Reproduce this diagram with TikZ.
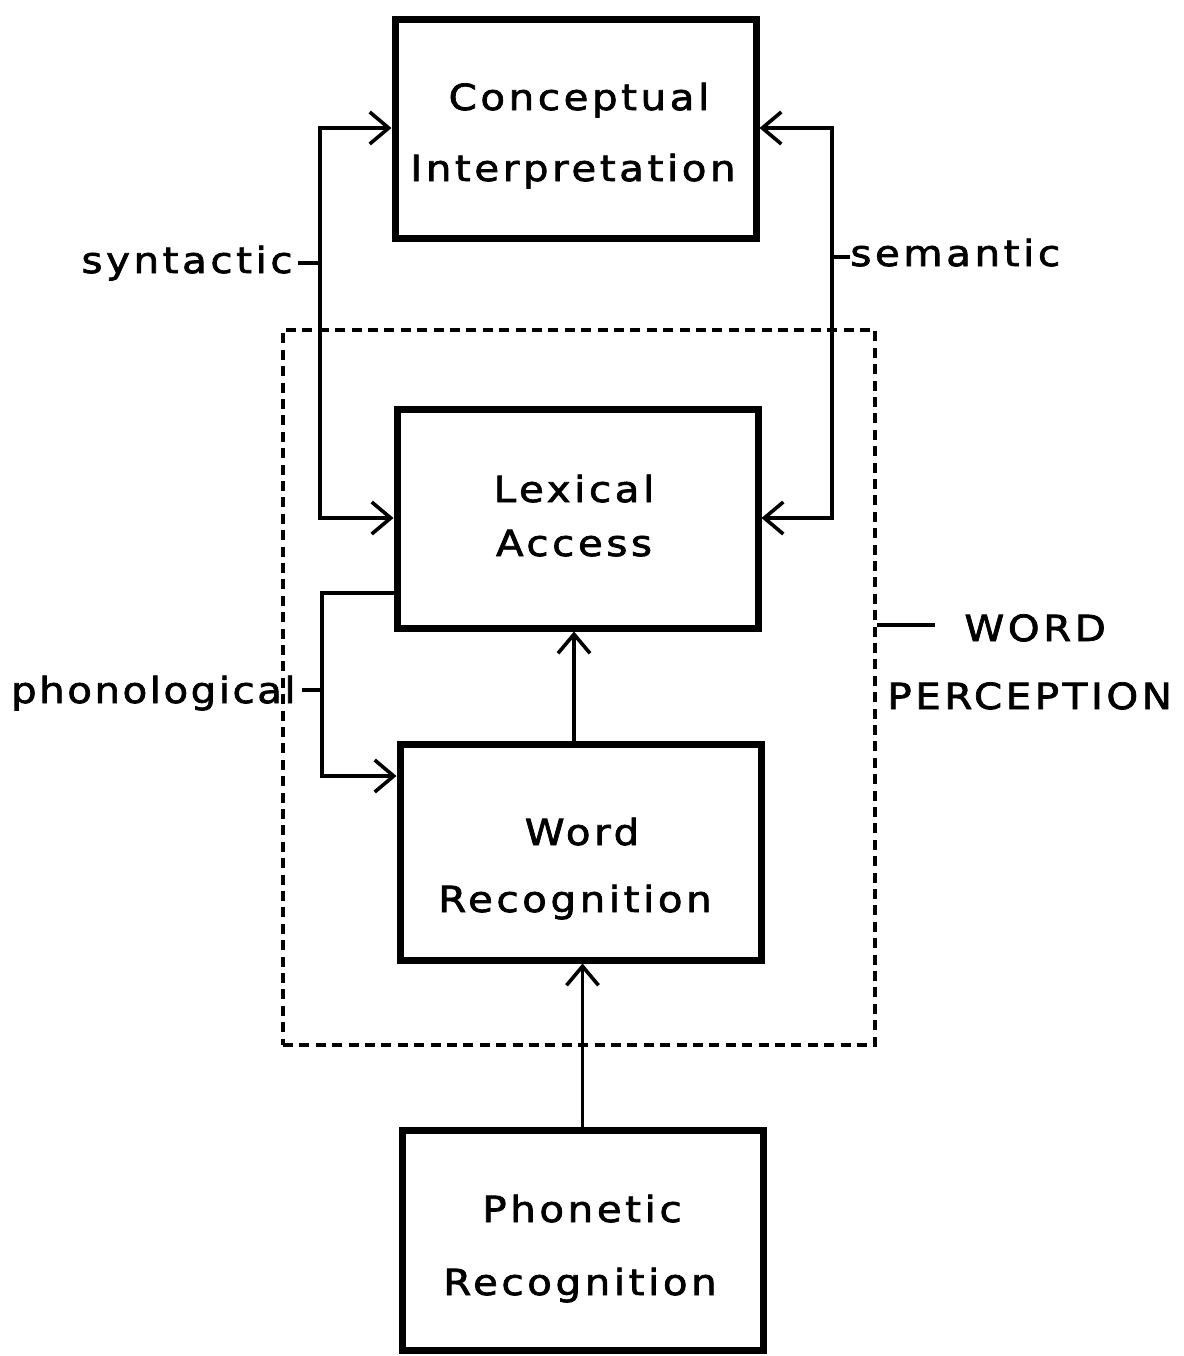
\documentclass[tikz,border=0pt]{standalone}
\usepackage{fontspec}
\setmainfont{DejaVu Sans}[LetterSpace=10, FakeStretch=1.12, FakeBold=2]
\usetikzlibrary{arrows.meta}
\tikzset{
  box/.style={draw, line width=3.5pt, rectangle, inner sep=0pt, minimum width=180.5pt, minimum height=109.5pt},
  conn/.style={line width=1.8pt},
  tipend/.style={-{Straight Barb[length=9.5pt,width=16pt]}},
  tipboth/.style={{Straight Barb[length=9.5pt,width=16pt]}-{Straight Barb[length=9.5pt,width=16pt]}},
  dashbox/.style={draw, line width=2pt, dash pattern=on 5pt off 3.2pt, rectangle, inner sep=0pt},
  lbl/.style={font=\fontsize{18}{20}\selectfont, inner sep=0pt}
}
\begin{document}
\begin{tikzpicture}[x=0.5pt,y=-0.5pt]
\useasboundingbox (0,0) rectangle (1184,1356);
% dashed WORD PERCEPTION region
\node[dashbox, minimum width=296pt, minimum height=357.5pt] (wp) at (579,687.5) {};
% boxes
\node[box] (ci) at (575.5,128.5) {};
\node[box] (la) at (577.5,518.5) {};
\node[box, minimum height=108pt] (wr) at (580.5,852) {};
\node[box, minimum height=110pt] (pr) at (582.5,1240) {};
% box texts
\node[lbl, anchor=base] (ci1) at (579,110) {Conceptual};
\node[lbl, anchor=base] (ci2) at (573,181) {Interpretation};
\node[lbl, anchor=base] (la1) at (574,502) {Lexical};
\node[lbl, anchor=base] (la2) at (574,556) {Access};
\node[lbl, anchor=base] (wr1) at (582,845) {Word};
\node[lbl, anchor=base] (wr2) at (575,912) {Recognition};
\node[lbl, anchor=base] (pr1) at (582,1222) {Phonetic};
\node[lbl, anchor=base] (pr2) at (580,1295) {Recognition};
% side labels
\node[lbl, anchor=base east] (syn) at (293,273) {syntactic};
\node[lbl, anchor=base west] (sem) at (850,266) {semantic};
\node[lbl, anchor=base east] (pho) at (296,703) {\addfontfeature{LetterSpace=7}phonological};
\node[lbl, anchor=base west] (wd) at (964,641) {WORD};
\node[lbl, anchor=base west] (pc) at (887,709) {PERCEPTION};
% routing coordinates
\coordinate (sT) at (320,128);
\coordinate (sB) at (320,518);
\coordinate (sM) at (320,263);
\coordinate (mT) at (832,128);
\coordinate (mB) at (832,518);
\coordinate (mM) at (832,257);
\coordinate (pT) at (322,593);
\coordinate (pB) at (322,776);
\coordinate (pM) at (322,690);
\coordinate (wT) at (935,625);
% connectors
\draw[conn, tipboth] (sT -| ci.west) -- (sT) -- (sB) -- (sB -| la.west);
\draw[conn, tipboth] (mT -| ci.east) -- (mT) -- (mB) -- (mB -| la.east);
\draw[conn, tipend] (pT -| la.west) -- (pT) -- (pB) -- (pB -| wr.west);
\draw[conn, tipend] (wr.north -| la1) -- (la.south -| la1);
\draw[conn, tipend] (pr.north) -- (wr.south -| pr.north);
% label ticks
\draw[conn] (sM) -- ++(-22,0);
\draw[conn] (mM) -- ++(18,0);
\draw[conn] (pM) -- ++(-20,0);
\draw[conn] (wp.east |- wT) -- (wT);
\end{tikzpicture}
\end{document}
